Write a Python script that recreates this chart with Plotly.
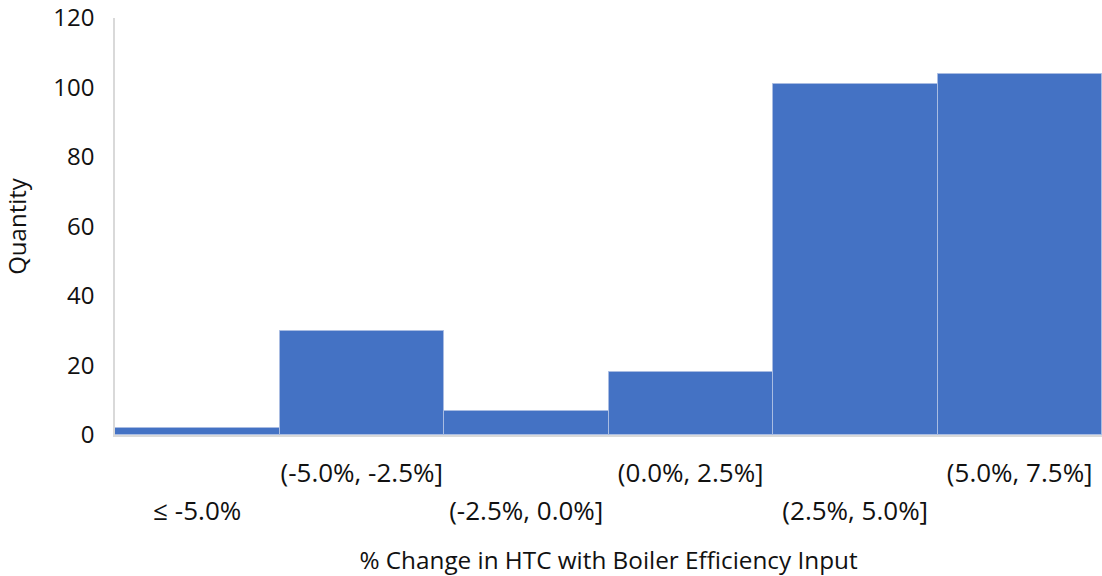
import plotly.graph_objects as go

categories = ["≤ -5.0%", "(-5.0%, -2.5%]", "(-2.5%, 0.0%]", "(0.0%, 2.5%]", "(2.5%, 5.0%]", "(5.0%, 7.5%]"]
counts = [2, 30, 7, 18, 101, 104]
y_ticks = [0, 20, 40, 60, 80, 100, 120]

positions = list(range(len(categories)))
upper_idx = [i for i in positions if i % 2 == 1]
lower_idx = [i for i in positions if i % 2 == 0]

FONT = "Open Sans"
fig = go.Figure()
fig.add_trace(go.Bar(
    x=positions, y=counts, width=1,
    marker=dict(color="#4472C4", line=dict(color="#A9BCE2", width=1)),
    showlegend=False,
))
fig.add_trace(go.Scatter(x=[positions[0]], y=[0], xaxis="x2", mode="markers",
                         marker=dict(opacity=0), showlegend=False, hoverinfo="skip"))

fig.update_layout(
    width=1102, height=576,
    margin=dict(l=115, r=0, t=18, b=141),
    plot_bgcolor="white", paper_bgcolor="white",
    font=dict(family=FONT, size=24, color="#111111"),
    bargap=0,
    xaxis=dict(
        range=[-0.5, len(categories) - 0.5], automargin=False,
        tickmode="array", tickvals=upper_idx,
        ticktext=[categories[i] for i in upper_idx],
        tickfont=dict(size=26),
        ticks="outside", ticklen=14, tickcolor="rgba(0,0,0,0)",
        showline=True, linecolor="#D9D9D9", linewidth=1.5,
        showgrid=False, zeroline=False,
        title=dict(text="% Change in HTC with Boiler Efficiency Input", standoff=63,
                   font=dict(size=24.3)),
    ),
    xaxis2=dict(
        overlaying="x", side="bottom", matches="x", automargin=False,
        range=[-0.5, len(categories) - 0.5],
        tickmode="array", tickvals=lower_idx,
        ticktext=[categories[i] for i in lower_idx],
        tickfont=dict(size=26),
        ticks="outside", ticklen=53, tickcolor="rgba(0,0,0,0)",
        showline=False, showgrid=False, zeroline=False,
    ),
    yaxis=dict(
        range=[0, 120.001], automargin=False, tickmode="array", tickvals=y_ticks,
        ticks="outside", ticklen=14, tickcolor="rgba(0,0,0,0)",
        ticklabeloverflow="allow",
        showline=True, linecolor="#D9D9D9", linewidth=1.5,
        showgrid=False, zeroline=False,
        title=dict(text="Quantity", standoff=23, font=dict(size=24)),
    ),
)

fig.write_html("out.html", config={"displayModeBar": False},
               post_script="document.body.style.margin='0';")
